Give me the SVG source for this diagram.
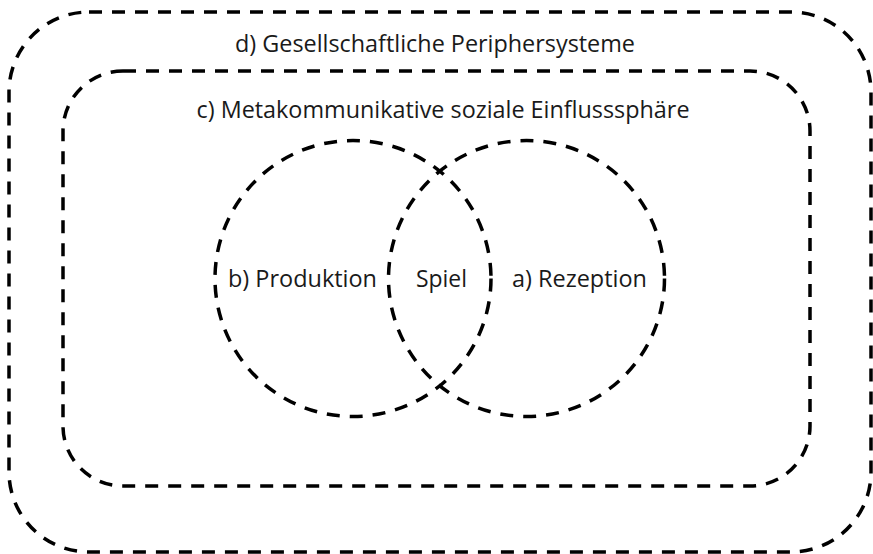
<svg xmlns="http://www.w3.org/2000/svg" width="873" height="554" viewBox="0 0 873 554">
<style>
.d{fill:none;stroke:#000;stroke-width:3.5;stroke-dasharray:13 10}
.t{font-family:"Open Sans","Liberation Sans",sans-serif;font-size:23px;fill:#1a1a1a;text-anchor:middle}
</style>
<rect width="873" height="554" fill="#fff"/>
<g id="outer">
<rect class="d" x="9" y="12" width="862" height="540" rx="80" ry="80"/>
<text class="t" x="435" y="52" textLength="400" lengthAdjust="spacingAndGlyphs">d) Gesellschaftliche Periphersysteme</text>
</g>
<g id="inner">
<rect class="d" x="63" y="71" width="747" height="415" rx="60" ry="60"/>
<text class="t" x="443" y="118" textLength="493" lengthAdjust="spacingAndGlyphs">c) Metakommunikative soziale Einflusssphäre</text>
</g>
<g id="produktion">
<circle class="d" cx="353" cy="278.5" r="138"/>
<text class="t" x="302.5" y="287" textLength="149" lengthAdjust="spacingAndGlyphs">b) Produktion</text>
</g>
<g id="rezeption">
<circle class="d" cx="526.5" cy="278.5" r="138"/>
<text class="t" x="579.5" y="287" textLength="135" lengthAdjust="spacingAndGlyphs">a) Rezeption</text>
</g>
<g id="spiel">
<text class="t" x="441.5" y="287" textLength="51" lengthAdjust="spacingAndGlyphs">Spiel</text>
</g>
<g id="connectors"/>
</svg>
